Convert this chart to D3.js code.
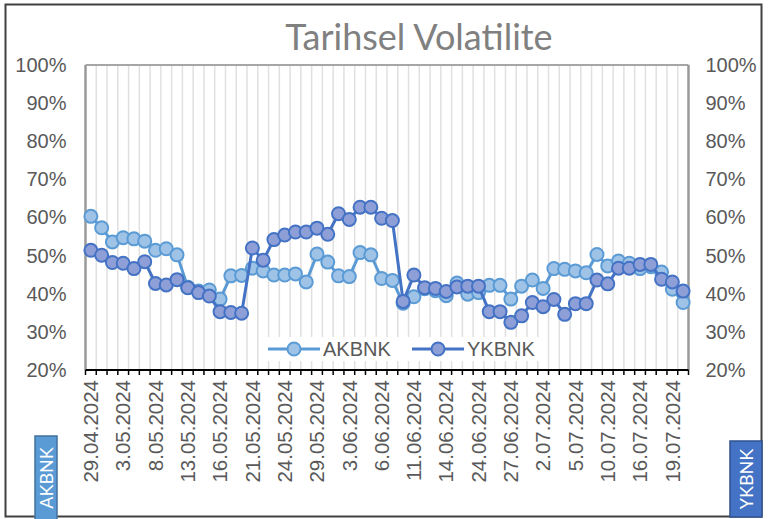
<!DOCTYPE html>
<html>
<head>
<meta charset="utf-8">
<style>
    body { margin: 0; background: #fff; }
    svg { display: block; font-family: "Liberation Sans", Arial, sans-serif; }
    .ylab text { font-size: 20px; fill: #595959; }
    .xlab text { font-size: 20.5px; fill: #595959; }
    .legend text { font-size: 20px; fill: #595959; }
</style>
</head>
<body>
<svg width="770" height="519"></svg>

<script src="https://d3js.org/d3.v7.min.js"></script>
<script>
    // trading days (labels shown every 3rd)
    let dates = [
        "29.04.2024", "30.04.2024", "2.05.2024", "3.05.2024", "6.05.2024", "7.05.2024",
        "8.05.2024", "9.05.2024", "10.05.2024", "13.05.2024", "14.05.2024", "15.05.2024",
        "16.05.2024", "17.05.2024", "20.05.2024", "21.05.2024", "22.05.2024", "23.05.2024",
        "24.05.2024", "27.05.2024", "28.05.2024", "29.05.2024", "30.05.2024", "31.05.2024",
        "3.06.2024", "4.06.2024", "5.06.2024", "6.06.2024", "7.06.2024", "10.06.2024",
        "11.06.2024", "12.06.2024", "13.06.2024", "14.06.2024", "20.06.2024", "21.06.2024",
        "24.06.2024", "25.06.2024", "26.06.2024", "27.06.2024", "28.06.2024", "1.07.2024",
        "2.07.2024", "3.07.2024", "4.07.2024", "5.07.2024", "8.07.2024", "9.07.2024",
        "10.07.2024", "11.07.2024", "12.07.2024", "16.07.2024", "17.07.2024", "18.07.2024",
        "19.07.2024", "22.07.2024"
    ];

    let akbnk = [
        60.3, 57.3, 53.6, 54.7, 54.4, 53.8, 51.4, 51.8, 50.2, 41.7, 40.7, 41.0,
        38.6, 44.7, 44.8, 46.7, 46.0, 44.9, 44.9, 45.2, 43.1, 50.4, 48.3, 44.7,
        44.5, 50.8, 50.2, 44.0, 43.5, 37.5, 39.2, 41.3, 40.8, 39.5, 42.8, 39.9,
        40.3, 42.2, 42.2, 38.6, 42.0, 43.6, 41.4, 46.6, 46.4, 46.0, 45.5, 50.3,
        47.3, 48.6, 48.0, 46.6, 47.1, 45.7, 41.2, 37.7
    ];

    let ykbnk = [
        51.4, 50.1, 48.2, 48.0, 46.6, 48.4, 42.7, 42.3, 43.7, 41.6, 40.3, 39.4,
        35.3, 35.1, 34.9, 52.0, 48.8, 54.2, 55.4, 56.2, 56.2, 57.2, 55.6, 61.0,
        59.5, 62.7, 62.7, 59.8, 59.2, 38.0, 44.9, 41.6, 41.4, 40.6, 41.8, 42.0,
        42.0, 35.3, 35.3, 32.5, 34.2, 37.7, 36.6, 38.5, 34.6, 37.4, 37.4, 43.6,
        42.6, 46.7, 46.7, 47.7, 47.7, 43.8, 43.1, 40.7
    ];

    let yTicks = [20, 30, 40, 50, 60, 70, 80, 90, 100];
    let seriesNames = ["AKBNK", "YKBNK"];

    let svg = d3.select("svg");
    let margin = { top: 65, right: 81.5, bottom: 149, left: 85.5 };
    let width = 770, height = 519;

    let x = d3.scaleBand()
        .domain(dates)
        .range([margin.left, width - margin.right]);
    let bw = x.bandwidth();
    let cx = d => x(d) + bw / 2;

    let y = d3.scaleLinear()
        .domain([20, 100])
        .range([height - margin.bottom, margin.top]);

    // outer frame
    svg.append("rect")
        .attr("x", 5.5).attr("y", 4.5)
        .attr("width", 756).attr("height", 512)
        .style("fill", "#fff")
        .style("stroke", "#404040")
        .style("stroke-width", 2);

    // title
    svg.append("text")
        .attr("x", 419).attr("y", 50)
        .style("text-anchor", "middle")
        .style("font-family", "Lato, 'Open Sans', sans-serif")
        .style("font-size", "36px")
        .style("fill", "#808080")
        .text("Tarihsel Volatilite");

    // vertical gridlines at category boundaries
    svg.append("g")
        .selectAll("line")
        .data(dates.slice(1))
        .join("line")
        .attr("x1", d => x(d)).attr("x2", d => x(d))
        .attr("y1", y(100)).attr("y2", y(20))
        .style("stroke", "#e0e0e0")
        .style("stroke-width", 1.5);

    // plot frame: top, left, right
    svg.append("line")
        .attr("x1", x.range()[0]).attr("x2", x.range()[1])
        .attr("y1", y(100)).attr("y2", y(100))
        .style("stroke", "#a6a6a6").style("stroke-width", 2);
    [x.range()[0], x.range()[1]].forEach(px => {
        svg.append("line")
            .attr("x1", px).attr("x2", px)
            .attr("y1", y(100)).attr("y2", y(20))
            .style("stroke", "#9a9a9a").style("stroke-width", 2.5);
    });

    // y axes (left + right)
    let fmt = d => d + "%";
    let yl = svg.append("g")
        .attr("class", "ylab")
        .attr("transform", `translate(${margin.left - 19},0)`)
        .call(d3.axisLeft(y).tickValues(yTicks).tickFormat(fmt).tickSize(0).tickPadding(0));
    let yr = svg.append("g")
        .attr("class", "ylab")
        .attr("transform", `translate(${width - margin.right + 17},0)`)
        .call(d3.axisRight(y).tickValues(yTicks).tickFormat(fmt).tickSize(0).tickPadding(0));
    yl.select(".domain").remove();
    yr.select(".domain").remove();

    // bottom axis: labels every 3rd category
    let xa = svg.append("g")
        .attr("class", "xlab")
        .attr("transform", `translate(0,${y(20)})`)
        .call(d3.axisBottom(x)
            .tickValues(dates.filter((d, i) => i % 3 === 0))
            .tickSize(0));
    xa.select(".domain").remove();
    xa.selectAll(".tick text")
        .attr("transform", "rotate(-90)")
        .attr("x", -10)
        .attr("y", 0)
        .attr("dy", "0.35em")
        .style("text-anchor", "end");

    // boundary tick marks + axis line
    svg.append("g")
        .selectAll("line")
        .data(dates.concat(["end"]))
        .join("line")
        .attr("x1", (d, i) => x.range()[0] + i * bw)
        .attr("x2", (d, i) => x.range()[0] + i * bw)
        .attr("y1", y(20)).attr("y2", y(20) + 5)
        .style("stroke", "#000").style("stroke-width", 1.5);
    svg.append("line")
        .attr("x1", x.range()[0]).attr("x2", x.range()[1])
        .attr("y1", y(20)).attr("y2", y(20))
        .style("stroke", "#000").style("stroke-width", 2);

    // legend
    let legend = svg.append("g").attr("class", "legend");
    legend.append("rect")
        .attr("x", 262).attr("y", 337).attr("width", 280).attr("height", 24)
        .style("fill", "#fff");

    let styles = [
        { line: "#5b9bd5", fill: "#9fc3e7", stroke: "#5b9bd5" },
        { line: "#4472c4", fill: "#8e9fd8", stroke: "#4472c4" }
    ];
    let legendX = [268, 412];
    seriesNames.forEach((name, k) => {
        let lx = legendX[k];
        legend.append("line")
            .attr("x1", lx).attr("x2", lx + 52)
            .attr("y1", 349).attr("y2", 349)
            .style("stroke", styles[k].line).style("stroke-width", 3);
        legend.append("circle")
            .attr("cx", lx + 26).attr("cy", 349).attr("r", 6.5)
            .style("fill", styles[k].fill)
            .style("stroke", styles[k].stroke).style("stroke-width", 2);
        legend.append("text")
            .attr("x", lx + 55).attr("y", 356)
            .text(name);
    });

    // series
    let line = d3.line()
        .x(d => cx(d.date))
        .y(d => y(d.v));

    [akbnk, ykbnk].forEach((vals, k) => {
        let data = dates.map((d, i) => ({ date: d, v: vals[i] }));
        let g = svg.append("g");
        g.append("path")
            .datum(data)
            .attr("d", line)
            .style("fill", "none")
            .style("stroke", styles[k].line)
            .style("stroke-width", 3)
            .style("stroke-linejoin", "round");
        g.selectAll("circle")
            .data(data)
            .join("circle")
            .attr("cx", d => cx(d.date))
            .attr("cy", d => y(d.v))
            .attr("r", 6.5)
            .style("fill", styles[k].fill)
            .style("stroke", styles[k].stroke)
            .style("stroke-width", 2);
    });

    // series tag boxes
    let tags = [
        { name: "AKBNK", x: 35, y: 436, w: 22, h: 84, fill: "#5b9bd5", stroke: "#41719c" },
        { name: "YKBNK", x: 730, y: 441, w: 32, h: 76, fill: "#4472c4", stroke: "#2f528f" }
    ];
    tags.forEach(t => {
        svg.append("rect")
            .attr("x", t.x).attr("y", t.y).attr("width", t.w).attr("height", t.h)
            .style("fill", t.fill)
            .style("stroke", t.stroke).style("stroke-width", 1.5);
        svg.append("text")
            .attr("transform", `translate(${t.x + t.w / 2 + 6.5},${t.y + t.h / 2}) rotate(-90)`)
            .style("text-anchor", "middle")
            .style("font-family", "Lato, sans-serif")
            .style("font-size", "18px")
            .style("fill", "#fff")
            .text(t.name);
    });
</script>
</body>
</html>
